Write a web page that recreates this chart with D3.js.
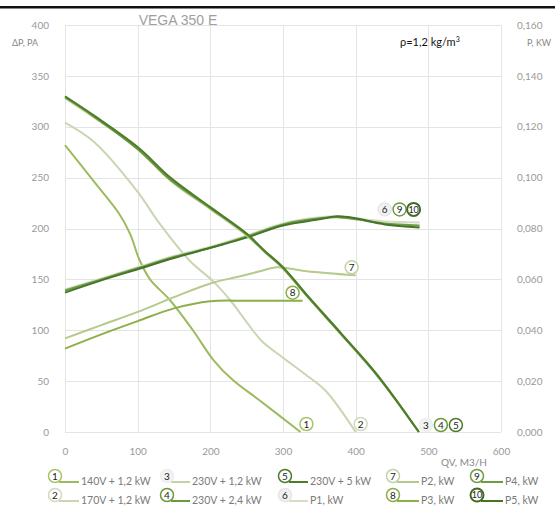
<!DOCTYPE html>
<html>
<head>
<meta charset="utf-8">
<script src="https://d3js.org/d3.v7.min.js"></script>
<style>
    body { margin: 0; background: #fff; }
</style>
</head>
<body>
<svg width="555" height="508" font-family="Lato, 'Open Sans', sans-serif"></svg>
<script>
    // pressure curves (flow m3/h -> pressure Pa)
    var q1 = [0, 40, 75, 90, 102, 117, 144, 176, 204, 231, 268, 324];
    var dp1 = [282, 246, 214, 194, 170, 150, 130, 100, 71, 51, 31, 0];

    var q2 = [0, 40, 100, 130, 172, 204, 228, 248, 270, 300, 330, 358, 400];
    var dp2 = [304, 285, 236, 205, 168, 148, 129, 110, 90, 73, 57, 41, 0];

    var q345 = [0, 40, 100, 145, 200, 250, 275, 300, 335, 380, 430, 487];
    var dp3 = [328, 309, 279, 247, 219, 193, 177, 161, 132, 96, 56, 0];
    var dp4 = [329, 310, 278, 248, 220, 194, 177, 161, 132, 96, 55, 0];
    var dp5 = [330, 311, 280, 250, 221, 195, 178, 162, 133, 97, 56, 0];

    // power curves (flow m3/h -> kW)
    var qP1 = [0, 50, 100, 150, 200, 250, 300, 350, 375, 400, 440, 488];
    var pw1 = [0.0560, 0.0604, 0.0648, 0.0692, 0.0728, 0.0772, 0.0820, 0.0844, 0.0848, 0.0840, 0.0828, 0.0824];
    var pw4 = [0.0556, 0.0600, 0.0644, 0.0688, 0.0724, 0.0768, 0.0816, 0.0840, 0.0844, 0.0836, 0.0820, 0.0812];
    var pw5 = [0.0548, 0.0596, 0.0640, 0.0684, 0.0724, 0.0764, 0.0812, 0.0836, 0.0848, 0.0840, 0.0816, 0.0804];

    var qP2 = [0, 50, 100, 150, 200, 241, 268, 292, 333, 400];
    var pw2 = [0.0368, 0.0420, 0.0472, 0.0530, 0.0584, 0.0612, 0.0632, 0.0648, 0.0632, 0.0616];

    var qP3 = [0, 50, 100, 150, 200, 250, 327];
    var pw3 = [0.0328, 0.0384, 0.0436, 0.0486, 0.0514, 0.0516, 0.0516];

    var legendLabels = ["140V + 1,2 kW", "170V + 1,2 kW", "230V + 1,2 kW", "230V + 2,4 kW", "230V + 5 kW",
        "P1, kW", "P2, kW", "P3, kW", "P4, kW", "P5, kW"];

    var colors = ["#9dbb5e", "#c9d6b2", "#c3d3a6", "#6a9a3a", "#4d7d2a",
        "#d3ddc3", "#b5ca8c", "#8caf49", "#6d9c41", "#46752a"];
    var ringColors = ["#a7c46c", "#d0dac0", "#eeeeee", "#6a9a3a", "#4d7d2a",
        "#e6e6e6", "#c3d2a6", "#8caf49", "#6d9c41", "#3e6a24"];

    var svg = d3.select("svg");

    var x = d3.scaleLinear().domain([0, 600]).range([65, 501]);
    var y = d3.scaleLinear().domain([0, 400]).range([432, 25]);
    var y2 = d3.scaleLinear().domain([0, 0.16]).range([432, 25]);

    // top bar
    svg.append("rect").attr("x", 0).attr("y", 6).attr("width", 555).attr("height", 2.5).attr("fill", "#111");

    // grid
    var grid = svg.append("g").attr("stroke", "#e4e4e4").attr("stroke-width", 1);
    grid.selectAll(".h").data(d3.range(0, 401, 50)).enter().append("line")
        .attr("x1", x(0)).attr("x2", x(600))
        .attr("y1", function(d) { return Math.round(y(d)) + 0.5; })
        .attr("y2", function(d) { return Math.round(y(d)) + 0.5; });
    grid.selectAll(".v").data(d3.range(0, 601, 100)).enter().append("line")
        .attr("y1", y(0)).attr("y2", y(400))
        .attr("x1", function(d) { return Math.round(x(d)) + 0.5; })
        .attr("x2", function(d) { return Math.round(x(d)) + 0.5; });

    // axes (labels only)
    function styleAxis(g) {
        g.select(".domain").remove();
        g.selectAll(".tick line").remove();
        g.attr("font-family", null);
        g.selectAll("text").attr("fill", "#999").attr("font-size", 10);
    }
    var comma = function(d) { return d3.format(".3f")(d).replace(".", ","); };

    svg.append("g").attr("transform", "translate(" + x(0) + ",0)")
        .call(d3.axisLeft(y).tickValues(d3.range(0, 401, 50)).tickPadding(10)).call(styleAxis);
    svg.append("g").attr("transform", "translate(" + x(600) + ",0)")
        .call(d3.axisRight(y2).tickValues(d3.range(0, 0.161, 0.02)).tickFormat(comma).tickPadding(10)).call(styleAxis);
    svg.append("g").attr("transform", "translate(0," + y(0) + ")")
        .call(d3.axisBottom(x).tickValues(d3.range(0, 601, 100)).tickPadding(10)).call(styleAxis);

    // titles
    svg.append("text").attr("x", 178).attr("y", 25).attr("text-anchor", "middle")
        .attr("font-size", 14).attr("fill", "#a0a0a0").attr("font-family", "Liberation Sans, Arial, sans-serif")
        .text("VEGA 350 E");
    svg.append("text").attr("x", 12).attr("y", 46).attr("font-size", 9).attr("fill", "#888").text("ΔP, PA");
    svg.append("text").attr("x", 527).attr("y", 46).attr("font-size", 9).attr("fill", "#888").text("P, KW");
    svg.append("text").attr("x", 464).attr("y", 466).attr("text-anchor", "middle")
        .attr("font-size", 10).attr("fill", "#888").text("QV, M3/H");
    var rho = svg.append("text").attr("x", 400).attr("y", 46).attr("font-size", 11).attr("fill", "#111");
    rho.append("tspan").text("ρ=1,2 kg/m");
    rho.append("tspan").attr("font-size", 7).attr("dy", -4).text("3");

    // series
    var series = [
        { q: q1, v: dp1, s: y, c: 0 },
        { q: q2, v: dp2, s: y, c: 1 },
        { q: qP1, v: pw1, s: y2, c: 5 },
        { q: qP2, v: pw2, s: y2, c: 6 },
        { q: qP3, v: pw3, s: y2, c: 7 },
        { q: qP1, v: pw4, s: y2, c: 8 },
        { q: qP1, v: pw5, s: y2, c: 9 },
        { q: q345, v: dp3, s: y, c: 2 },
        { q: q345, v: dp4, s: y, c: 3 },
        { q: q345, v: dp5, s: y, c: 4 }
    ];

    series.forEach(function(sr) {
        var pts = sr.q.map(function(d, i) { return [d, sr.v[i]]; });
        var line = d3.line()
            .x(function(d) { return x(d[0]); })
            .y(function(d) { return sr.s(d[1]); })
            .curve(d3.curveCatmullRom.alpha(0.5));
        svg.append("path").datum(pts)
            .attr("d", line)
            .attr("fill", "none")
            .attr("stroke", colors[sr.c])
            .attr("stroke-width", 2);
    });

    function badge(cx, cy, i) {
        var g = svg.append("g").attr("transform", "translate(" + cx + "," + cy + ")");
        g.append("circle").attr("r", 6.5).attr("fill", i === 2 || i === 5 ? "#f2f2f2" : "#fff")
            .attr("stroke", ringColors[i]).attr("stroke-width", i === 9 ? 2 : 1.5);
        g.append("text").attr("text-anchor", "middle").attr("dy", "0.35em")
            .attr("font-size", i === 9 ? 9 : 10).attr("fill", "#222").text(i + 1);
        return g;
    }

    // end-of-curve badges
    badge(x(q1[q1.length - 1]) + 6, y(0) - 8, 0);
    badge(x(q2[q2.length - 1]) + 5, y(0) - 8, 1);
    badge(x(q345[q345.length - 1]) + 7, y(0) - 7, 2);
    badge(x(q345[q345.length - 1]) + 22, y(0) - 7, 3);
    badge(x(q345[q345.length - 1]) + 37, y(0) - 7, 4);
    var pEnd = x(qP1[qP1.length - 1]);
    badge(pEnd - 35, y2(pw1[pw1.length - 1]) - 13, 5);
    badge(pEnd - 20, y2(pw1[pw1.length - 1]) - 13, 8);
    badge(pEnd - 6, y2(pw1[pw1.length - 1]) - 13, 9);
    badge(x(qP2[qP2.length - 1]) - 4, y2(pw2[pw2.length - 1]) - 8, 6);
    badge(x(qP3[qP3.length - 1]) - 10, y2(pw3[pw3.length - 1]) - 8, 7);

    // legend
    var legX = [55, 167, 285, 393, 477];
    var legTextX = [81, 192, 310, 421, 505];
    legendLabels.forEach(function(lbl, i) {
        var col = Math.floor(i / 2), row = i % 2;
        var cx = legX[col], cy = row === 0 ? 476 : 495;
        svg.append("line")
            .attr("x1", cx + 4).attr("x2", legTextX[col] - 2)
            .attr("y1", cy + 6).attr("y2", cy + 6)
            .attr("stroke", colors[i]).attr("stroke-width", 2);
        badge(cx, cy, i);
        svg.append("text").attr("x", legTextX[col]).attr("y", cy + 9)
            .attr("font-size", 10.5).attr("fill", "#7a7a7a").text(lbl);
    });
</script>
</body>
</html>
